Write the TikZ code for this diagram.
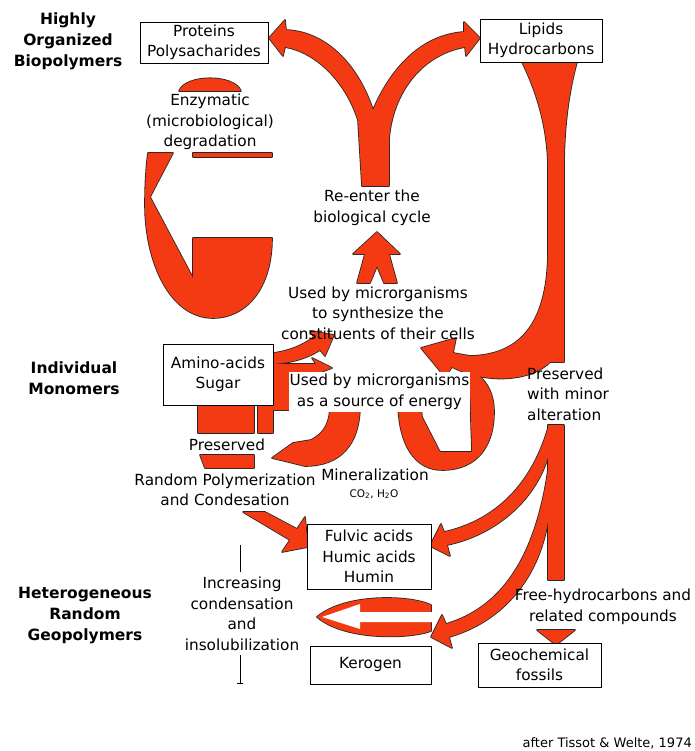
\documentclass[tikz,border=0pt]{standalone}
\usepackage{fontspec}
\setmainfont{DejaVu Sans}
\definecolor{myred}{RGB}{243,58,18}
\newcommand\mainsz{\fontsize{15.3}{20.5}\selectfont}
\newcommand\redshapes[1]{%
 % Y arrow (re-enter)
 \path[#1] (362,186) -- (389,186) -- (389,140) .. controls (392,95) and (420,55) .. (465,47) -- (466,56) -- (480,38) -- (464,22) -- (464,32) .. controls (420,35) and (390,70) .. (373,110) .. controls (360,70) and (330,32) .. (286,30) -- (285,20) -- (269,38) -- (283,56) -- (285,47) .. controls (315,52) and (345,80) .. (358,120) -- cycle;
 % up arrow
 \path[#1] (377,232) -- (400,254) -- (389,254) -- (397,283) -- (384,283) -- (377,266) -- (370,283) -- (357,283) -- (365,254) -- (353,254) -- cycle;
 % lipids funnel and bar
 \path[#1] (522,62) -- (577,62) .. controls (568,95) and (564,130) .. (564,170) -- (564,362) -- (548,362) -- (548,170) .. controls (548,130) and (538,95) .. (522,62) -- cycle;
 % J arc
 \path[#1] (548,250) .. controls (548,330) and (515,355) .. (470,356) -- (453,353) -- (456,338) -- (421,348) -- (445,377) -- (452,367) .. controls (490,386) and (535,380) .. (552,360) -- cycle;
 % right energy loop
 \path[#1] (398,400) .. controls (398,445) and (415,470) .. (442,470) .. controls (478,470) and (494,445) .. (494,412) .. controls (494,395) and (488,383) .. (478,375) -- (462,372) -- (470,390) -- (472,452) -- (440,452) -- (422,417) -- (420,400) -- cycle;
 % left crescent
 \path[#1] (330,405) -- (360,405) .. controls (360,445) and (340,466) .. (305,466) -- (272,458) -- (293,443) -- (311,440) .. controls (325,433) and (330,422) .. (330,405) -- cycle;
 % left synth arrow
 \path[#1] (273,353) .. controls (290,351) and (303,345) .. (314,337) -- (310,331) -- (334,335) -- (325,356) -- (320,350) .. controls (306,359) and (290,363) .. (273,364) -- cycle;
 % left energy arrow
 \path[#1] (273,364) -- (316,364) -- (312,358) -- (332,368) -- (305,378) .. controls (295,385) and (290,398) .. (290,410) -- (273,410) -- cycle;
 % preserved columns
 \path[#1] (198,406) rectangle (254,433);
 \path[#1] (258,406) rectangle (273,433);
 \path[#1] (200,455) -- (254,455) -- (254,468) -- (205,468) -- cycle;
 % arrow into fulvic
 \path[#1] (243,512) -- (265,512) -- (297,529) -- (305,517) -- (308,547) -- (282,552) -- (290,540) -- cycle;
 % lower bar
 \path[#1] (548,425) rectangle (564,580);
 % fulvic arc
 \path[#1] (548,428) .. controls (530,490) and (490,522) .. (444,532) -- (441,524) -- (430,546) -- (450,556) -- (447,545) .. controls (495,535) and (538,500) .. (550,450) -- cycle;
 % kerogen arc
 \path[#1] (548,470) .. controls (535,560) and (500,608) .. (446,624) -- (442,615) -- (431,637) -- (452,648) -- (449,637) .. controls (508,620) and (545,570) .. (550,505) -- cycle;
 % down triangle
 \path[#1] (537,630) -- (575,630) -- (556,645) -- cycle;
 % lens
 \path[#1] (431,605) .. controls (410,595) and (345,593) .. (317,617) .. controls (345,641) and (410,639) .. (431,631) -- cycle;
 % enzymatic loop
 \path[#1] (148,153) -- (173,153) -- (150,197) -- (193,278) -- (193,238) -- (272,238) .. controls (272,290) and (245,318) .. (213,318) .. controls (170,318) and (145,262) .. (145,205) .. controls (145,185) and (146,168) .. (148,153) -- cycle;
 \path[#1] (179,91) .. controls (186,74) and (234,74) .. (241,91) -- cycle;
 \path[#1] (193,153) rectangle (272,157);
}
\tikzset{
 outl/.style={draw=black!85, line width=1.6pt, line join=round},
 redf/.style={fill=myred},
 box/.style={draw=black, line width=0.9pt, fill=white, inner sep=0pt, align=center, font=\mainsz},
 lbl/.style={align=center, font=\mainsz, inner sep=0pt},
 side/.style={align=center, font=\bfseries\fontsize{15.5}{21}\selectfont, inner sep=0pt},
}
\begin{document}
\begin{tikzpicture}[x=1pt, y=-1pt]
\useasboundingbox (0,0) rectangle (694,751);
\fill[white] (0,0) rectangle (694,751);
\redshapes{outl}
\redshapes{redf}
% white arrow inside lens
\fill[white] (433,612) -- (360,612) -- (360,604) -- (322,617) -- (360,629) -- (360,622) -- (433,622) -- cycle;
% side labels
\node[side] (hob) at (68,41) {Highly\\Organized\\Biopolymers};
\node[side] (im) at (74,378) {Individual\\Monomers};
\node[side] (hrg) at (85,616) {Heterogeneous\\Random\\Geopolymers};
% boxes and labels
\node[box, minimum width=128, minimum height=41] (prot) at (204,42.5) {Proteins\\Polysacharides};
\node[box, minimum width=122, minimum height=43] (lip) at (541,40.5) {Lipids\\Hydrocarbons};
\node[lbl] (enz) at (210,122) {Enzymatic\\(microbiological)\\degradation};
\node[lbl] (reent) at (372,208) {Re-enter the\\biological cycle};
\node[lbl] (synth) at (378,313) {Used by microrganisms\\to synthesize the\\constituents of their cells};
\node[box, minimum width=110, minimum height=61] (amino) at (218,374.5) {Amino-acids\\Sugar};
\node[lbl, fill=white, minimum width=181, minimum height=40] (energy) at (379.5,392) {Used by microrganisms\\as a source of energy};
\node[lbl] (pres) at (227,445) {Preserved};
\node[lbl] (rpc) at (225,490) {Random Polymerization\\and Condesation};
\node[lbl] (mine) at (375,475) {Mineralization};
\node[lbl, font=\fontsize{10.5}{12}\selectfont] (co2) at (374,494) {CO\textsubscript{2}, H\textsubscript{2}O};
\node[lbl, align=left, anchor=west] (pma) at (527,394) {Preserved\\with minor\\alteration};
\node[box, minimum width=124, minimum height=65] (fulv) at (369,556.5) {Fulvic acids\\Humic acids\\Humin};
\node[box, minimum width=121, minimum height=38] (ker) at (370.5,665) {Kerogen};
\node[box, minimum width=123, minimum height=44] (geo) at (539.5,665) {Geochemical\\fossils};
\node[lbl] (free) at (603,607) {Free-hydrocarbons and\\related compounds};
\node[lbl] (inc) at (242,614) {Increasing\\condensation\\and\\insolubilization};
\node[lbl, anchor=east, font=\fontsize{13}{15}\selectfont] (tw) at (692,743) {after Tissot \& Welte, 1974};
% increasing markers
\coordinate (i1) at (240,545);
\coordinate (i2) at (240,572);
\coordinate (i3) at (240,655);
\coordinate (i4) at (240,683);
\draw[line width=0.8pt] (i1) -- (i2);
\draw[line width=0.8pt] (i3) -- (i4);
\draw[line width=0.8pt] (237,683) -- (243,683);
\end{tikzpicture}
\end{document}
